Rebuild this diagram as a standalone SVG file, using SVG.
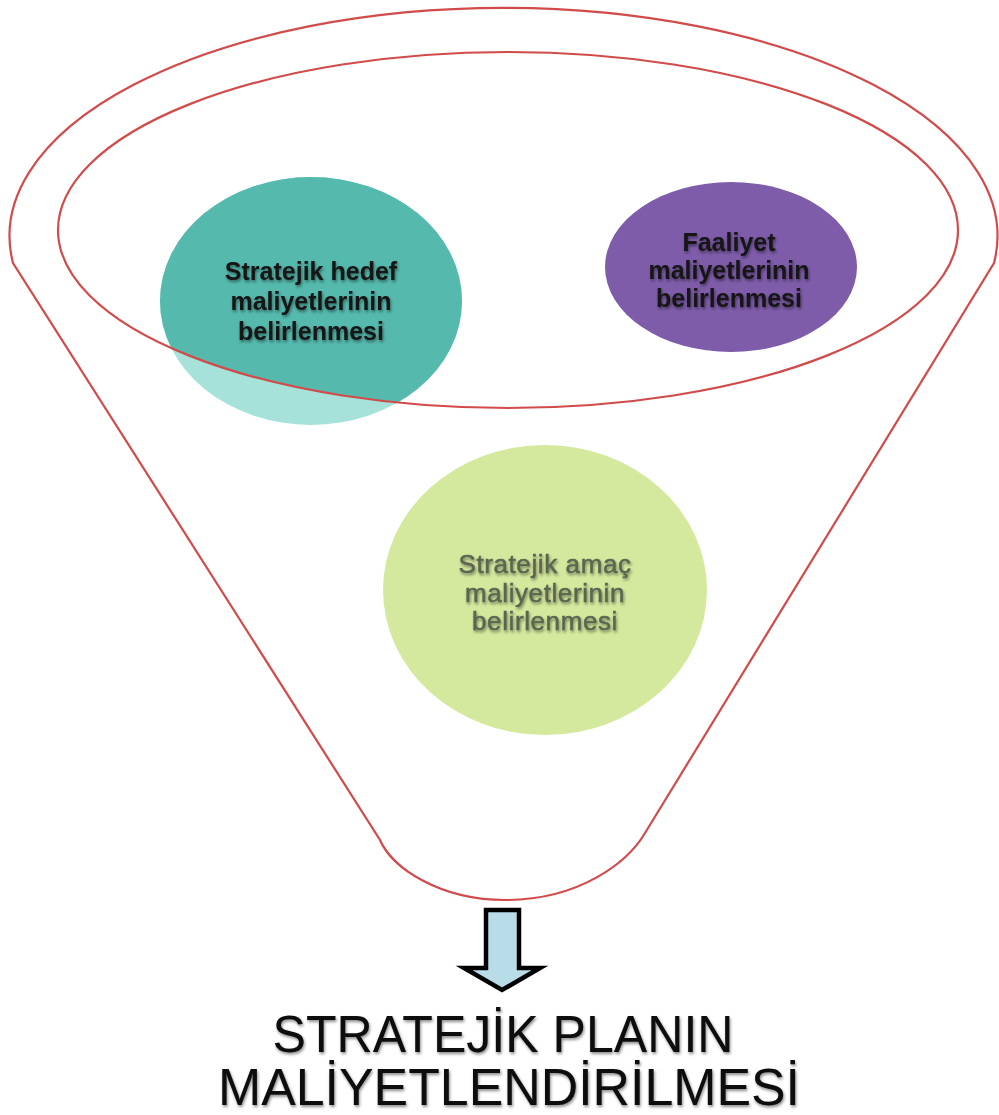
<svg xmlns="http://www.w3.org/2000/svg" width="999" height="1115" viewBox="0 0 999 1115">
<defs>
<style>
.outline{fill:none;stroke:#d24b4b;stroke-width:2.2}
.lbl{font-family:"Liberation Sans",Arial,sans-serif;font-size:25px;font-weight:bold;fill:#141414;text-anchor:middle}
.lblg{font-family:"Liberation Sans",Arial,sans-serif;font-size:26px;fill:#5a6650;stroke:#5a6650;stroke-width:0.5;text-anchor:middle;letter-spacing:0.6px}
.title{font-family:"Liberation Sans",Arial,sans-serif;font-size:52px;fill:#0a0a0a;text-anchor:middle}
</style>
<filter id="sh" x="-10%" y="-30%" width="120%" height="160%">
<feDropShadow dx="1" dy="2" stdDeviation="1.4" flood-color="#000" flood-opacity="0.45"/>
</filter>
<clipPath id="innerClip"><ellipse cx="508" cy="230" rx="450" ry="178"/></clipPath>
</defs>
<rect width="999" height="1115" fill="#ffffff"/>
<g id="node-hedef">
<ellipse cx="311" cy="301" rx="151" ry="124" fill="#a6e2da"/>
<ellipse cx="311" cy="301" rx="151" ry="124" fill="#55b9ad" clip-path="url(#innerClip)"/>
</g>
<g id="node-faaliyet">
<ellipse cx="731" cy="267" rx="126" ry="85" fill="#7e5ca9"/>
</g>
<g id="node-amac">
<ellipse cx="545" cy="590" rx="162" ry="145" fill="#d5e99e"/>
</g>
<g id="connectors">
<path id="funnel" class="outline" d="M 13 263 A 494 228 0 1 1 994 263 L 645 833 C 628 862 580 900 505 900 C 440 900 392 868 380 840 Z"/>
<ellipse id="funnel-rim" class="outline" cx="508" cy="230" rx="450" ry="178"/>
<path id="arrow" d="M 486 910 L 519 910 L 519 968 L 540 968 L 502 990 L 464 968 L 486 968 Z" fill="#b8dde8" stroke="#000" stroke-width="4.5" stroke-linejoin="miter"/>
</g>
<g id="label-hedef" filter="url(#sh)">
<text class="lbl" x="311" y="280">Stratejik hedef</text>
<text class="lbl" x="311" y="310">maliyetlerinin</text>
<text class="lbl" x="311" y="340">belirlenmesi</text>
</g>
<g id="label-faaliyet" filter="url(#sh)">
<text class="lbl" x="729" y="251">Faaliyet</text>
<text class="lbl" x="729" y="279">maliyetlerinin</text>
<text class="lbl" x="729" y="307">belirlenmesi</text>
</g>
<g id="label-amac" filter="url(#sh)">
<text class="lblg" x="545" y="573">Stratejik amaç</text>
<text class="lblg" x="545" y="602">maliyetlerinin</text>
<text class="lblg" x="545" y="630">belirlenmesi</text>
</g>
<g id="title" filter="url(#sh)">
<text class="title" x="503" y="1052" textLength="461" lengthAdjust="spacingAndGlyphs">STRATEJİK PLANIN</text>
<text class="title" x="509" y="1105" textLength="582" lengthAdjust="spacingAndGlyphs">MALİYETLENDİRİLMESİ</text>
</g>
</svg>
